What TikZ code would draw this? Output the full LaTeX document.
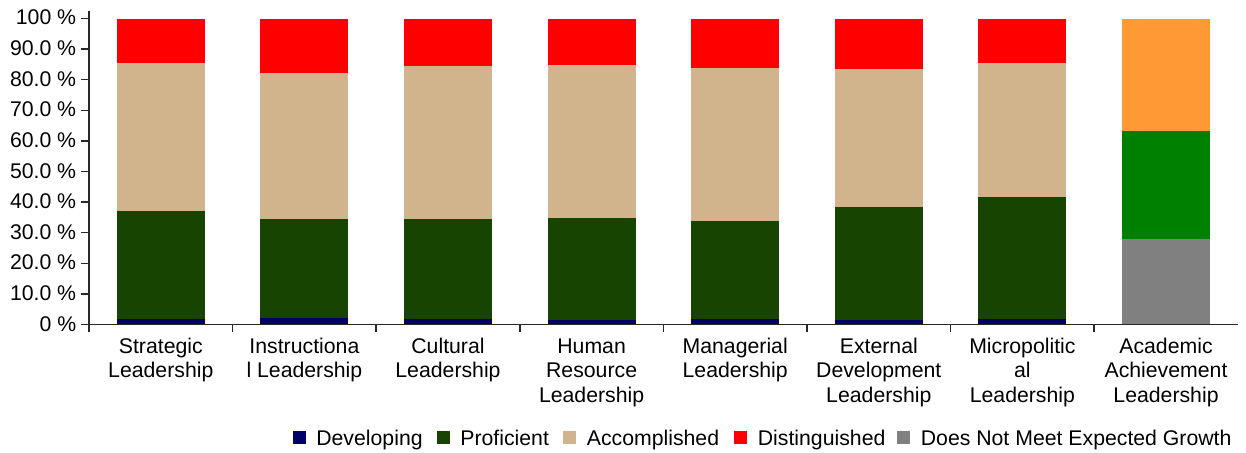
\documentclass[tikz,border=0pt]{standalone}
\usepackage{fontspec}
\setmainfont{Liberation Sans}
\definecolor{cDev}{RGB}{0,0,102}
\definecolor{cProf}{RGB}{23,68,0}
\definecolor{cAcc}{RGB}{210,180,140}
\definecolor{cDist}{RGB}{255,0,0}
\definecolor{cNot}{RGB}{128,128,128}
\definecolor{cGreen}{RGB}{0,128,0}
\definecolor{cOrange}{RGB}{255,153,51}
\definecolor{axisgray}{RGB}{40,40,40}
\tikzset{
  lbl/.style={font=\fontsize{12.75}{14.7}\selectfont, inner sep=0pt, text=black},
  catlbl/.style={lbl, align=center, anchor=base},
  ticklbl/.style={lbl, anchor=base east},
  axisline/.style={draw=axisgray, line width=0.9pt},
  legsq/.style={minimum size=7.8pt, inner sep=0pt, anchor=north west},
}
\begin{document}
\begin{tikzpicture}[x=0.6pt,y=-0.6pt]
\useasboundingbox (0,0) rectangle (1246,452);
% bars: center, developing, proficient, accomplished
\foreach \k/\a/\b/\c in {0/1.7/37.0/85.4, 1/2.2/34.4/82.1, 2/1.7/34.4/84.5, 3/1.4/34.8/84.8, 4/1.7/33.8/83.8, 5/1.4/38.4/83.5, 6/1.7/41.6/85.4}{
  \pgfmathsetmacro{\cx}{89+(\k+0.5)*143.6}
  \fill[cDev]  (\cx-44, 324.5) rectangle (\cx+44, {324.5-3.06*\a});
  \fill[cProf] (\cx-44, {324.5-3.06*\a}) rectangle (\cx+44, {324.5-3.06*\b});
  \fill[cAcc]  (\cx-44, {324.5-3.06*\b}) rectangle (\cx+44, {324.5-3.06*\c});
  \fill[cDist] (\cx-44, {324.5-3.06*\c}) rectangle (\cx+44, 18.5);
}
\pgfmathsetmacro{\cx}{89+7.5*143.6}
\fill[cNot]    (\cx-44, 324.5) rectangle (\cx+44, {324.5-3.06*27.9});
\fill[cGreen]  (\cx-44, {324.5-3.06*27.9}) rectangle (\cx+44, {324.5-3.06*63.2});
\fill[cOrange] (\cx-44, {324.5-3.06*63.2}) rectangle (\cx+44, 18.5);
% axes
\draw[axisline] (89,11) -- (89,332);
\draw[axisline] (81,324.5) -- (1238,324.5);
\foreach \v/\t in {10/10.0 \%,20/20.0 \%,30/30.0 \%,40/40.0 \%,50/50.0 \%,60/60.0 \%,70/70.0 \%,80/80.0 \%,90/90.0 \%,100/100 \%}{
  \draw[axisline] (81,{324.5-3.06*\v}) -- (89,{324.5-3.06*\v});
  \node[ticklbl] at (76.5,{324.5-3.06*\v+6.5}) {\t};
}
\node[ticklbl] (t0) at (76.5,331) {0 \%};
\foreach \k in {1,...,7}{
  \draw[axisline] ({89+\k*143.6},324.5) -- ({89+\k*143.6},332);
}
% category labels (anchor=base is the baseline of the last line)
\foreach \k/\n/\t in {0/2/{Strategic\\Leadership}, 1/2/{Instructiona\\l Leadership}, 2/2/{Cultural\\Leadership}, 3/3/{Human\\Resource\\Leadership}, 4/2/{Managerial\\Leadership}, 5/3/{External\\Development\\Leadership}, 6/3/{Micropolitic\\al\\Leadership}, 7/3/{Academic\\Achievement\\Leadership}}{
  \node[catlbl] (cat\k) at ({89+(\k+0.5)*143.6},{353+(\n-1)*24.5}) {\t};
}
% legend
\foreach \n/\sx/\col/\t in {d/292.5/cDev/Developing, p/436.5/cProf/Proficient, a/563/cAcc/Accomplished, s/734/cDist/Distinguished, n/897/cNot/Does Not Meet Expected Growth}{
  \node[legsq, fill=\col] (sq\n) at (\sx,431) {};
  \node[lbl, anchor=base west] (lt\n) at (\sx+23.5,445) {\t};
}
\end{tikzpicture}
\end{document}
